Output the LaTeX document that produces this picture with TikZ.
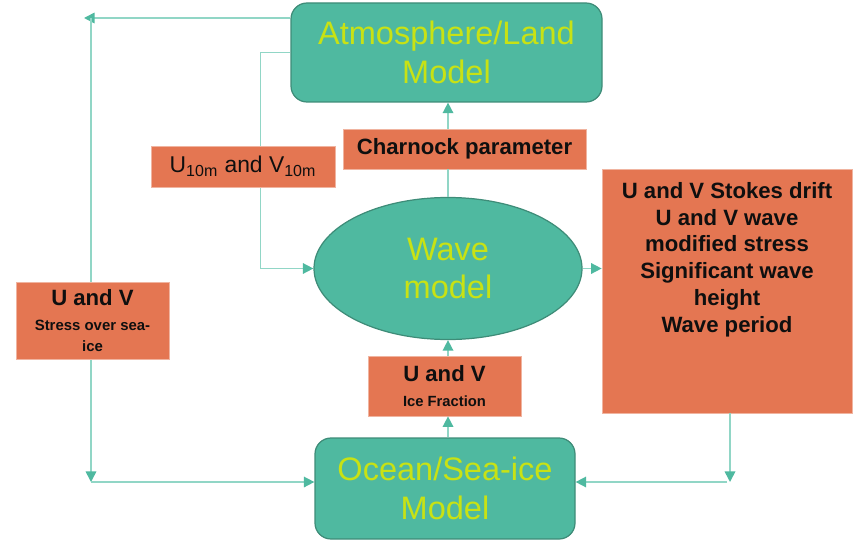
\documentclass[tikz,border=0pt]{standalone}
\usepackage{fontspec}
\setmainfont{Liberation Sans}
\usetikzlibrary{arrows.meta,positioning,shapes.geometric}
\definecolor{sea}{RGB}{79,185,160}
\definecolor{seadark}{RGB}{62,140,120}
\definecolor{sealine}{RGB}{145,214,198}
\definecolor{lime}{RGB}{200,226,20}
\definecolor{coral}{RGB}{228,118,82}
\definecolor{ink}{RGB}{15,15,15}
\tikzset{
  >={Triangle[length=6pt,width=6pt,color=sea]},
  model/.style={draw=seadark,fill=sea,rounded corners=0.32cm,line width=0.7pt,
    text=lime,align=center,inner sep=0pt,font=\fontsize{18.5}{22}\selectfont},
  field/.style={fill=coral,draw=coral!55!white,line width=0.4pt,text=ink,
    align=center,inner sep=0pt,font=\fontsize{12.6}{15.2}\selectfont\bfseries},
  link/.style={draw=sealine,line width=0.9pt},
}
\begin{document}
\begin{tikzpicture}
  \useasboundingbox (0,0) rectangle (17.1,-10.8);
  % corners of the outer loop
  \coordinate (tl) at (1.82,-0.36);
  \coordinate (bl) at (1.82,-9.64);
  \coordinate (br) at (14.6,-9.64);
  % models
  \node[model,minimum width=6.22cm,minimum height=1.98cm] (atm) at (8.93,-1.05) {Atmosphere/Land\\Model};
  \node[model,ellipse,minimum width=5.36cm,minimum height=2.84cm] (ell) at (8.96,-5.37) {Wave\\model};
  \node[model,minimum width=5.2cm,minimum height=2.02cm] (ocean) at (8.9,-9.77) {Ocean/Sea-ice\\Model};
  % outer loop runs under the stress box
  \draw[link,->] (atm.west |- tl) -- ([xshift=-0.14cm]tl);
  \draw[link,->] (tl) -- (bl);
  \draw[link,->] (bl) -- (ocean.west |- bl);
  \draw[link,->] (atm.west) -- ++(-0.6,0) |- (ell.west);
  % exchanged fields
  \node[field,minimum width=4.86cm,minimum height=0.8cm] (charn) at (9.29,-2.98) {Charnock parameter};
  \node[field,font=\fontsize{13}{15}\selectfont,minimum width=3.68cm,minimum height=0.82cm] (wind) at (4.86,-3.33)
    {U\textsubscript{10m} and V\textsubscript{10m}};
  \node[field,minimum width=3.06cm,minimum height=1.2cm] (ice) at (8.89,-7.72)
    {U and V\\[-1pt]{\fontsize{8.4}{9.6}\selectfont Ice Fraction}};
  \node[field,minimum width=3.06cm,minimum height=1.54cm] (stress) at (1.85,-6.41)
    {U and V\\[-1pt]{\fontsize{8.5}{9.6}\selectfont Stress over sea-}\\[-3pt]{\fontsize{8.5}{9.6}\selectfont ice}};
  \node[field,minimum width=5cm,minimum height=4.88cm,
    label={[anchor=north,yshift=-0.27cm,inner sep=0pt,align=center,text=ink,
      font=\fontsize{12.6}{15.2}\selectfont\bfseries]north:U and V Stokes drift\\U and V wave\\modified stress\\Significant wave\\height\\Wave period}]
    (out) at (14.54,-5.82) {};
  % connectors
  \draw[link] (ell.north) -- (ell.north |- charn.south);
  \draw[link,->] (ell.north |- charn.north) -- (ell.north |- atm.south);
  \draw[link,->] (ell.south |- ocean.north) -- (ell.south |- ice.south);
  \draw[link,->] (ell.south |- ice.north) -- (ell.south);
  \draw[link,->] (ell.east) -- (out.west |- ell.east);
  \draw[link,->] (out.south -| br) -- (br);
  \draw[link,->] ([xshift=-0.06cm]br) -- (ocean.east |- br);
\end{tikzpicture}
\end{document}
